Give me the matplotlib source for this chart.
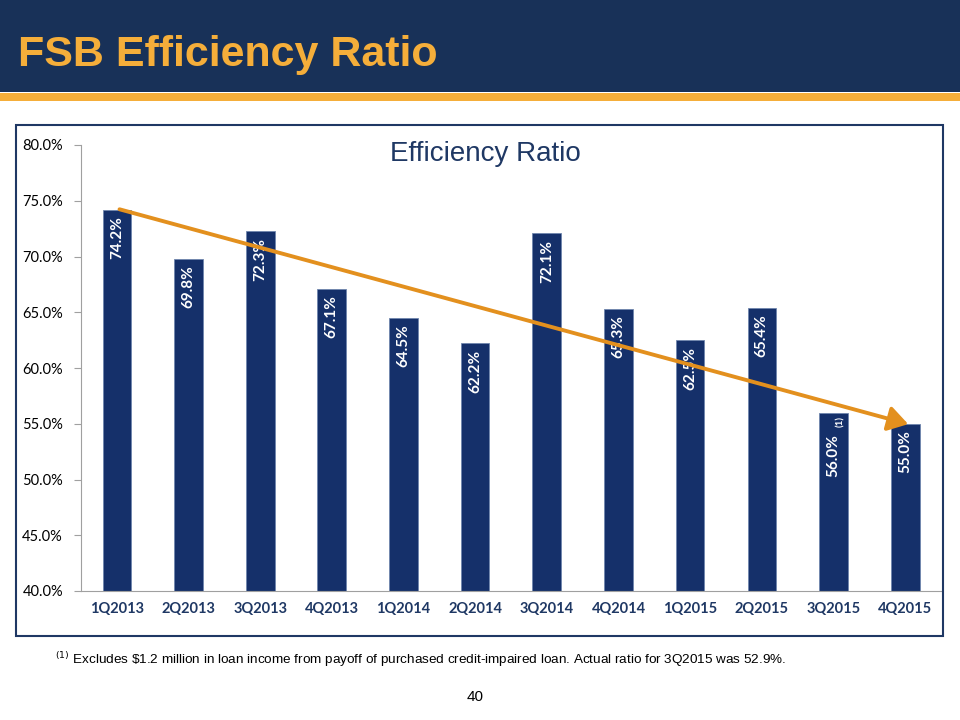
import matplotlib.pyplot as plt
from matplotlib.patches import Rectangle, FancyArrowPatch
import matplotlib as mpl

mpl.rcParams['font.family'] = ['Lato', 'DejaVu Sans']

quarters = ['1Q2013', '2Q2013', '3Q2013', '4Q2013', '1Q2014', '2Q2014',
            '3Q2014', '4Q2014', '1Q2015', '2Q2015', '3Q2015', '4Q2015']
ratios = [74.2, 69.8, 72.3, 67.1, 64.5, 62.2, 72.1, 65.3, 62.5, 65.4, 56.0, 55.0]
yticks = [40, 45, 50, 55, 60, 65, 70, 75, 80]

navy = '#17305E'
orange = '#F5AE3A'

fig = plt.figure(figsize=(9.6, 7.2), dpi=100)

# header band
fig.patches.append(Rectangle((0, 1 - 92/720), 1, 92/720, transform=fig.transFigure,
                             facecolor='#183158', edgecolor='none', zorder=0))
fig.patches.append(Rectangle((0, 1 - 101/720), 1, 8/720, transform=fig.transFigure,
                             facecolor=orange, edgecolor='none', zorder=0))
fig.text(18/960, 1 - 55/720, 'FSB Efficiency Ratio', fontsize=31, fontweight='bold',
         color=orange, family='Liberation Sans', va='center', ha='left')

# chart frame
fig.patches.append(Rectangle((16/960, 1 - 636/720), 927/960, 511/720, transform=fig.transFigure,
                             facecolor='none', edgecolor='#1F3864', linewidth=1.5, zorder=1))

ax = fig.add_axes([81/960, 1 - 591/720, 860/960, 446/720])
x = list(range(len(quarters)))
ax.bar(x, ratios, width=0.4, color='#15306A', edgecolor='#6F86AE', linewidth=0.6, zorder=2)
for xi, v, q in zip(x, ratios, quarters):
    top = v - 1.9 if q == '3Q2015' else v - 0.6
    ax.text(xi, top, f'{v:.1f}%', rotation=90, ha='center', va='top', color='white',
            fontsize=11, fontweight='bold', zorder=3)
ax.text(10 + 0.1, 56.0 - 0.3, '(1)', rotation=90, fontsize=7, fontweight='bold', color='white',
        ha='center', va='top', zorder=3)

ax.set_ylim(40, 80)
ax.set_xlim(-0.5, len(quarters) - 0.5)
ax.set_yticks(yticks)
ax.set_yticklabels([f'{t:.1f}%' for t in yticks], fontsize=10.5)
ax.set_xticks(x)
ax.set_xticklabels(quarters, fontsize=10.5, fontweight='bold', color='#1F3864')
ax.tick_params(axis='y', length=5, color='#A0A0A0', pad=8)
ax.tick_params(axis='x', length=0, pad=8)
for s in ['top', 'right']:
    ax.spines[s].set_visible(False)
ax.spines['left'].set_color('#A0A0A0')
ax.spines['bottom'].set_color('#A0A0A0')

fig.text(485/960, 1 - 154/720, 'Efficiency Ratio', fontsize=20, color='#1F3864',
         family='Liberation Sans', ha='center', va='center')

# trend arrow
arrow = FancyArrowPatch((0, 74.3), (11.08, 54.9), arrowstyle='-|>,head_length=8,head_width=5',
                        color='#E3901E', linewidth=2.8, mutation_scale=1.5, zorder=4)
ax.add_patch(arrow)

fig.text(55/960, 1 - 660/720, r'$^{(1)}$ Excludes \$1.2 million in loan income from payoff of purchased credit-impaired loan. Actual ratio for 3Q2015 was 52.9%.',
         fontsize=9.7, family='Liberation Sans', va='center', ha='left')
fig.text(475/960, 1 - 697/720, '40', fontsize=11, family='Liberation Sans', ha='center', va='center')

plt.savefig('out.png', dpi=100)
